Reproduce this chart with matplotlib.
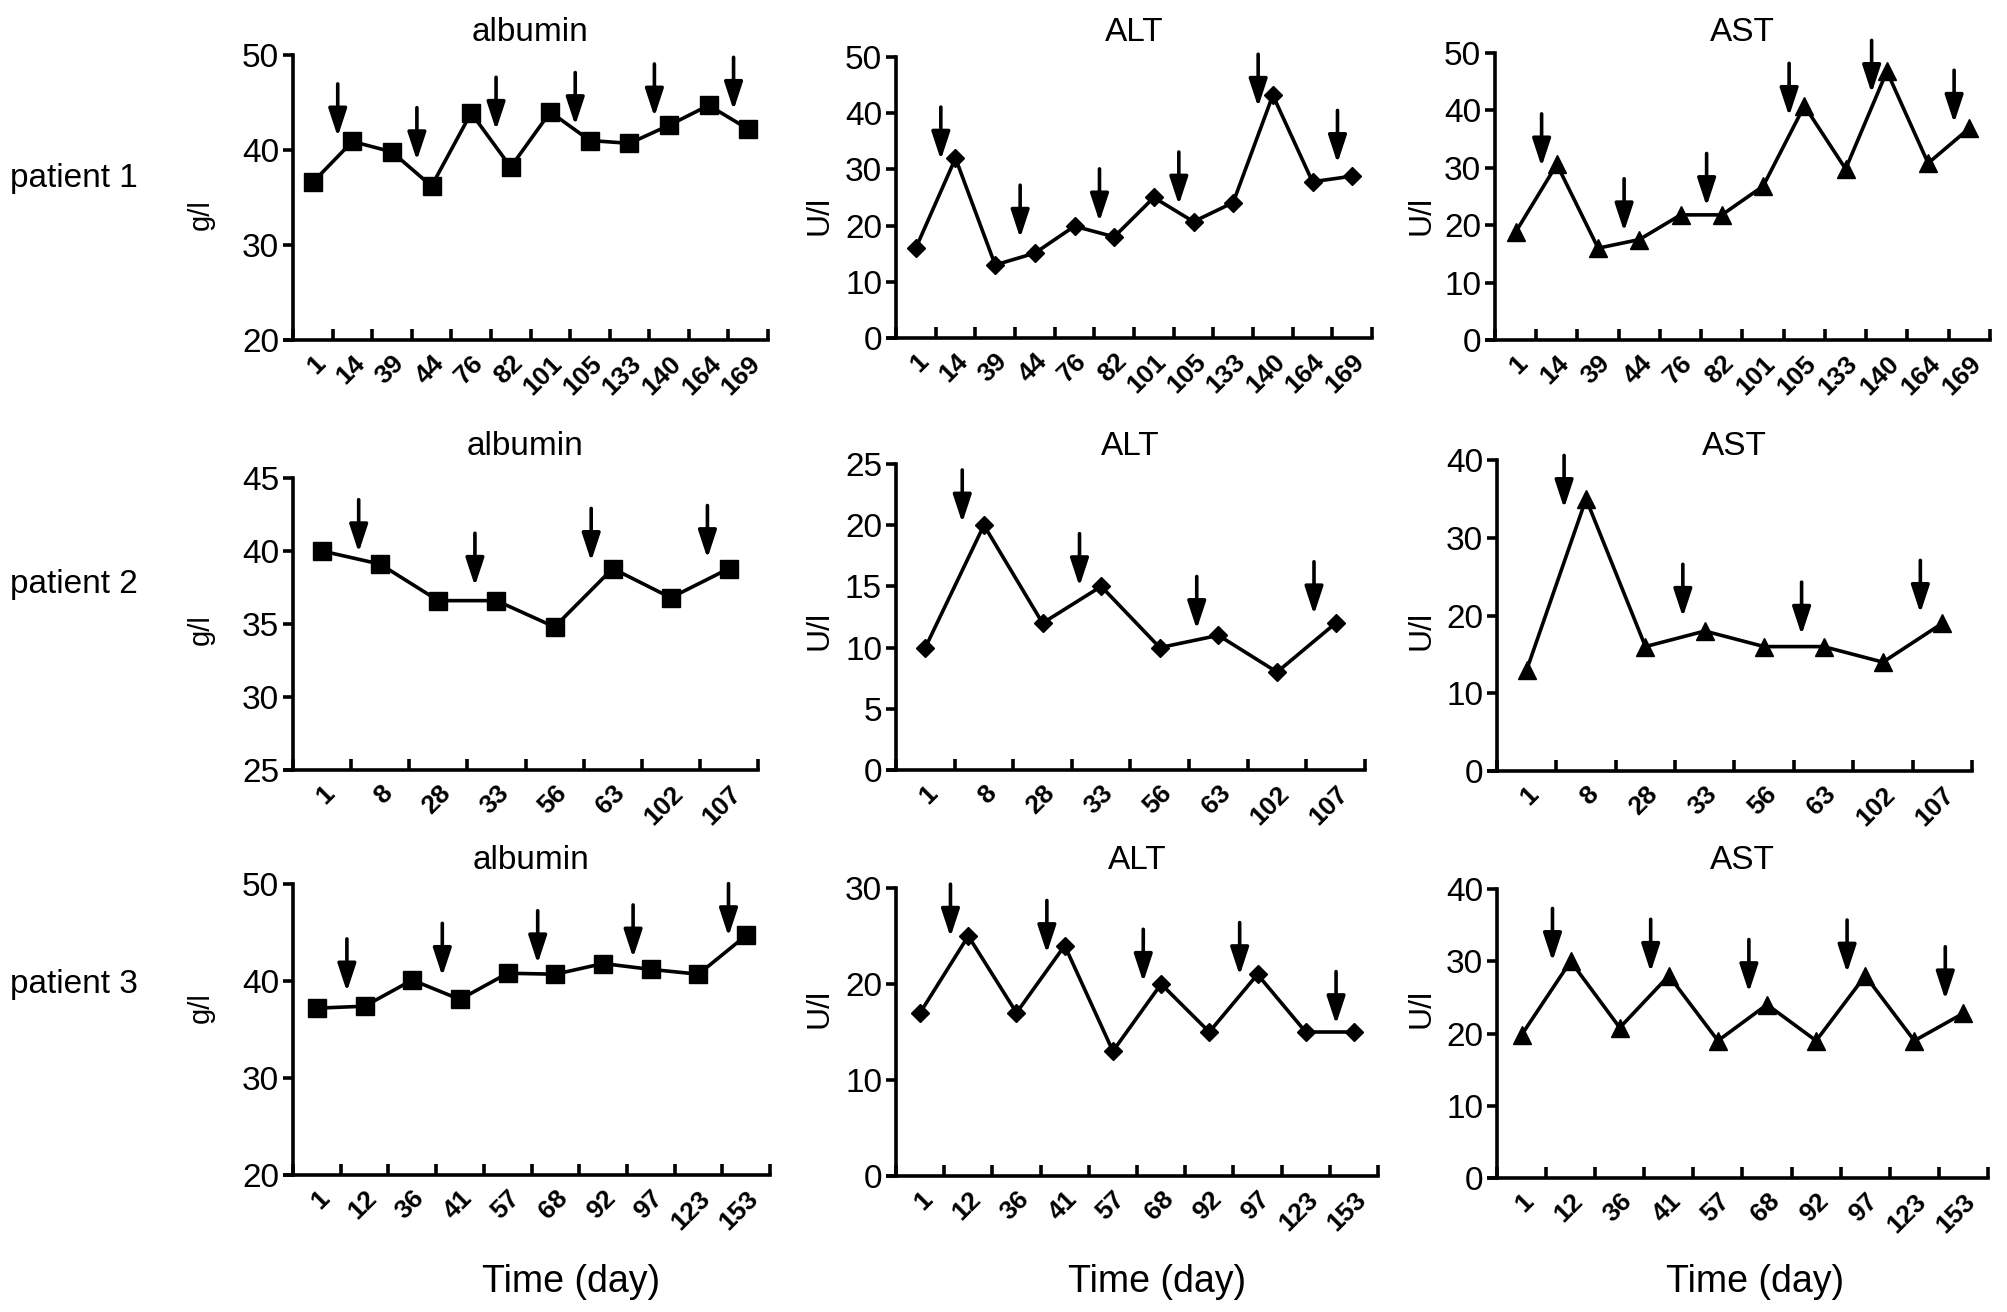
import matplotlib
matplotlib.use("Agg")
import matplotlib.pyplot as plt
import numpy as np

plt.rcParams['font.family'] = ['Liberation Sans', 'DejaVu Sans']

# ---------------- data ----------------
days_p1 = [1, 14, 39, 44, 76, 82, 101, 105, 133, 140, 164, 169]
albumin_p1 = [36.6, 40.9, 39.8, 36.2, 43.9, 38.2, 44.0, 41.0, 40.7, 42.6, 44.7, 42.2]
alt_p1 = [16.0, 32.0, 13.0, 15.1, 19.9, 18.0, 25.0, 20.7, 24.1, 43.2, 27.8, 28.8]
ast_p1 = [18.8, 30.6, 16.0, 17.5, 21.8, 21.8, 26.8, 40.8, 29.8, 46.8, 30.8, 36.9]
arrow_before_p1 = [1, 3, 5, 7, 9, 11]
albumin_p1_arrow_tips = [41.4, 38.9, 42.1, 42.6, 43.5, 44.2]
alt_p1_arrow_tips = [31.7, 17.8, 20.7, 23.7, 41.1, 31.1]
ast_p1_arrow_tips = [30.2, 18.9, 23.3, 39.0, 43.0, 37.8]

days_p2 = [1, 8, 28, 33, 56, 63, 102, 107]
albumin_p2 = [40.0, 39.1, 36.6, 36.6, 34.8, 38.8, 36.8, 38.8]
alt_p2 = [10, 20, 12, 15, 10, 11, 8, 12]
ast_p2 = [13, 35, 16, 18, 16, 16, 14, 19]
arrow_before_p2 = [1, 3, 5, 7]
albumin_p2_arrow_tips = [39.9, 37.6, 39.3, 39.5]
alt_p2_arrow_tips = [20.2, 15.0, 11.5, 12.7]
ast_p2_arrow_tips = [33.8, 19.8, 17.5, 20.3]

days_p3 = [1, 12, 36, 41, 57, 68, 92, 97, 123, 153]
albumin_p3 = [37.2, 37.4, 40.1, 38.1, 40.8, 40.7, 41.8, 41.2, 40.7, 44.7]
alt_p3 = [17, 25, 17, 24, 13, 20, 15, 21, 15, 15]
ast_p3 = [19.8, 30.0, 20.8, 28.0, 19.0, 24.0, 19.0, 28.0, 19.0, 22.8]
arrow_before_p3 = [1, 3, 5, 7, 9]
albumin_p3_arrow_tips = [38.9, 40.5, 41.8, 42.4, 44.6]
alt_p3_arrow_tips = [24.9, 23.2, 20.2, 20.9, 15.8]
ast_p3_arrow_tips = [30.0, 28.5, 25.7, 28.4, 24.7]

titles = ["albumin", "ALT", "AST"]
units = ["g/l", "U/l", "U/l"]
patients = ["patient 1", "patient 2", "patient 3"]
xlabel = "Time (day)"

yticks_p1 = [[20, 30, 40, 50], [0, 10, 20, 30, 40, 50], [0, 10, 20, 30, 40, 50]]
yticks_p2 = [[25, 30, 35, 40, 45], [0, 5, 10, 15, 20, 25], [0, 10, 20, 30, 40]]
yticks_p3 = [[20, 30, 40, 50], [0, 10, 20, 30], [0, 10, 20, 30, 40]]

rows = [
    (days_p1, [albumin_p1, alt_p1, ast_p1], arrow_before_p1,
     [albumin_p1_arrow_tips, alt_p1_arrow_tips, ast_p1_arrow_tips], yticks_p1),
    (days_p2, [albumin_p2, alt_p2, ast_p2], arrow_before_p2,
     [albumin_p2_arrow_tips, alt_p2_arrow_tips, ast_p2_arrow_tips], yticks_p2),
    (days_p3, [albumin_p3, alt_p3, ast_p3], arrow_before_p3,
     [albumin_p3_arrow_tips, alt_p3_arrow_tips, ast_p3_arrow_tips], yticks_p3),
]

# ---------------- layout (pixels) ----------------
W, H = 2008, 1312
fig = plt.figure(figsize=(W / 100, H / 100), dpi=100)

# [y-axis x, x-axis right end, top, bottom] per panel
panel_px = [
    [[293, 768, 55, 340], [896, 1372, 57, 338], [1495, 1990, 53, 340]],
    [[293, 758, 478, 770], [896, 1365, 464, 770], [1497, 1972, 460, 771]],
    [[293, 770, 884, 1175], [896, 1378, 888, 1176], [1497, 1988, 889, 1178]],
]
title_base_y = [41, 455, 869]
patient_y = [178, 585, 985]
ylabel_x = [201, 820, 1421]
ylabel_y = [215, 630, 1008]
xlabel_x = [571, 1157, 1755]
xlabel_y = 1282
markers = ['s', 'D', '^']
msizes = [12.5, 9.5, 13.5]
LW = 2.6
EXT = 8

for r, (days, series, arrow_before, tips, yticks) in enumerate(rows):
    n = len(days)
    x = np.arange(n)
    for c in range(3):
        yax, right, top, bottom = panel_px[r][c]
        binpx = (right - yax) / n
        left = yax - EXT
        ax = fig.add_axes([left / W, 1 - bottom / H, (right - left) / W, (bottom - top) / H])
        ax.set_xlim(-0.5 - EXT / binpx, n - 0.5)
        ax.set_ylim(yticks[c][0], yticks[c][-1])
        ax.patch.set_alpha(0)
        for s in ['top', 'right']:
            ax.spines[s].set_visible(False)
        ax.spines['left'].set_position(('data', -0.5))
        ax.spines['left'].set_linewidth(LW)
        ax.spines['bottom'].set_linewidth(LW)

        ax.plot(x, series[c], color='black', lw=LW, marker=markers[c],
                markersize=msizes[c], markerfacecolor='black', markeredgecolor='black',
                clip_on=False, zorder=3)

        # arrows
        for b, tip in zip(arrow_before, tips[c]):
            ax.annotate('', xy=(b - 0.5 + 0.13, tip), xytext=(0, 38),
                        textcoords='offset points',
                        arrowprops=dict(arrowstyle='-|>,head_length=0.85,head_width=0.28',
                                        color='black', lw=2.6, shrinkA=0, shrinkB=0,
                                        mutation_scale=20),
                        annotation_clip=False)

        # y ticks
        ax.set_yticks(yticks[c])
        ax.set_yticklabels([str(v) for v in yticks[c]])
        ax.tick_params(axis='y', direction='out', length=7, width=LW, labelsize=24, pad=3)

        # x ticks: marks at bin edges, labels at centres
        ax.set_xticks(np.arange(n + 1) - 0.5)
        ax.set_xticklabels([])
        ax.tick_params(axis='x', which='major', direction='in', length=8, width=LW)
        ax.set_xticks(x, [str(d) for d in days], minor=True)
        ax.tick_params(axis='x', which='minor', length=0, pad=8)
        for t in ax.get_xticklabels(minor=True):
            t.set_rotation(45)
            t.set_ha('right')
            t.set_va('top')
            t.set_rotation_mode('anchor')
            t.set_fontsize(19)
            t.set_fontweight('bold')

        cx = (yax + right) / 2
        fig.text(cx / W, 1 - title_base_y[r] / H, titles[c], ha='center', va='baseline',
                 fontsize=24)
        fig.text(ylabel_x[c] / W, 1 - ylabel_y[r] / H, units[c], ha='center', va='center',
                 rotation=90, fontsize=21 if c == 0 else 23)

    fig.text(10 / W, 1 - patient_y[r] / H, patients[r], ha='left', va='center', fontsize=24)

for c in range(3):
    fig.text(xlabel_x[c] / W, 1 - xlabel_y / H, xlabel, ha='center', va='center', fontsize=27)

fig.savefig('out.png', dpi=100)
